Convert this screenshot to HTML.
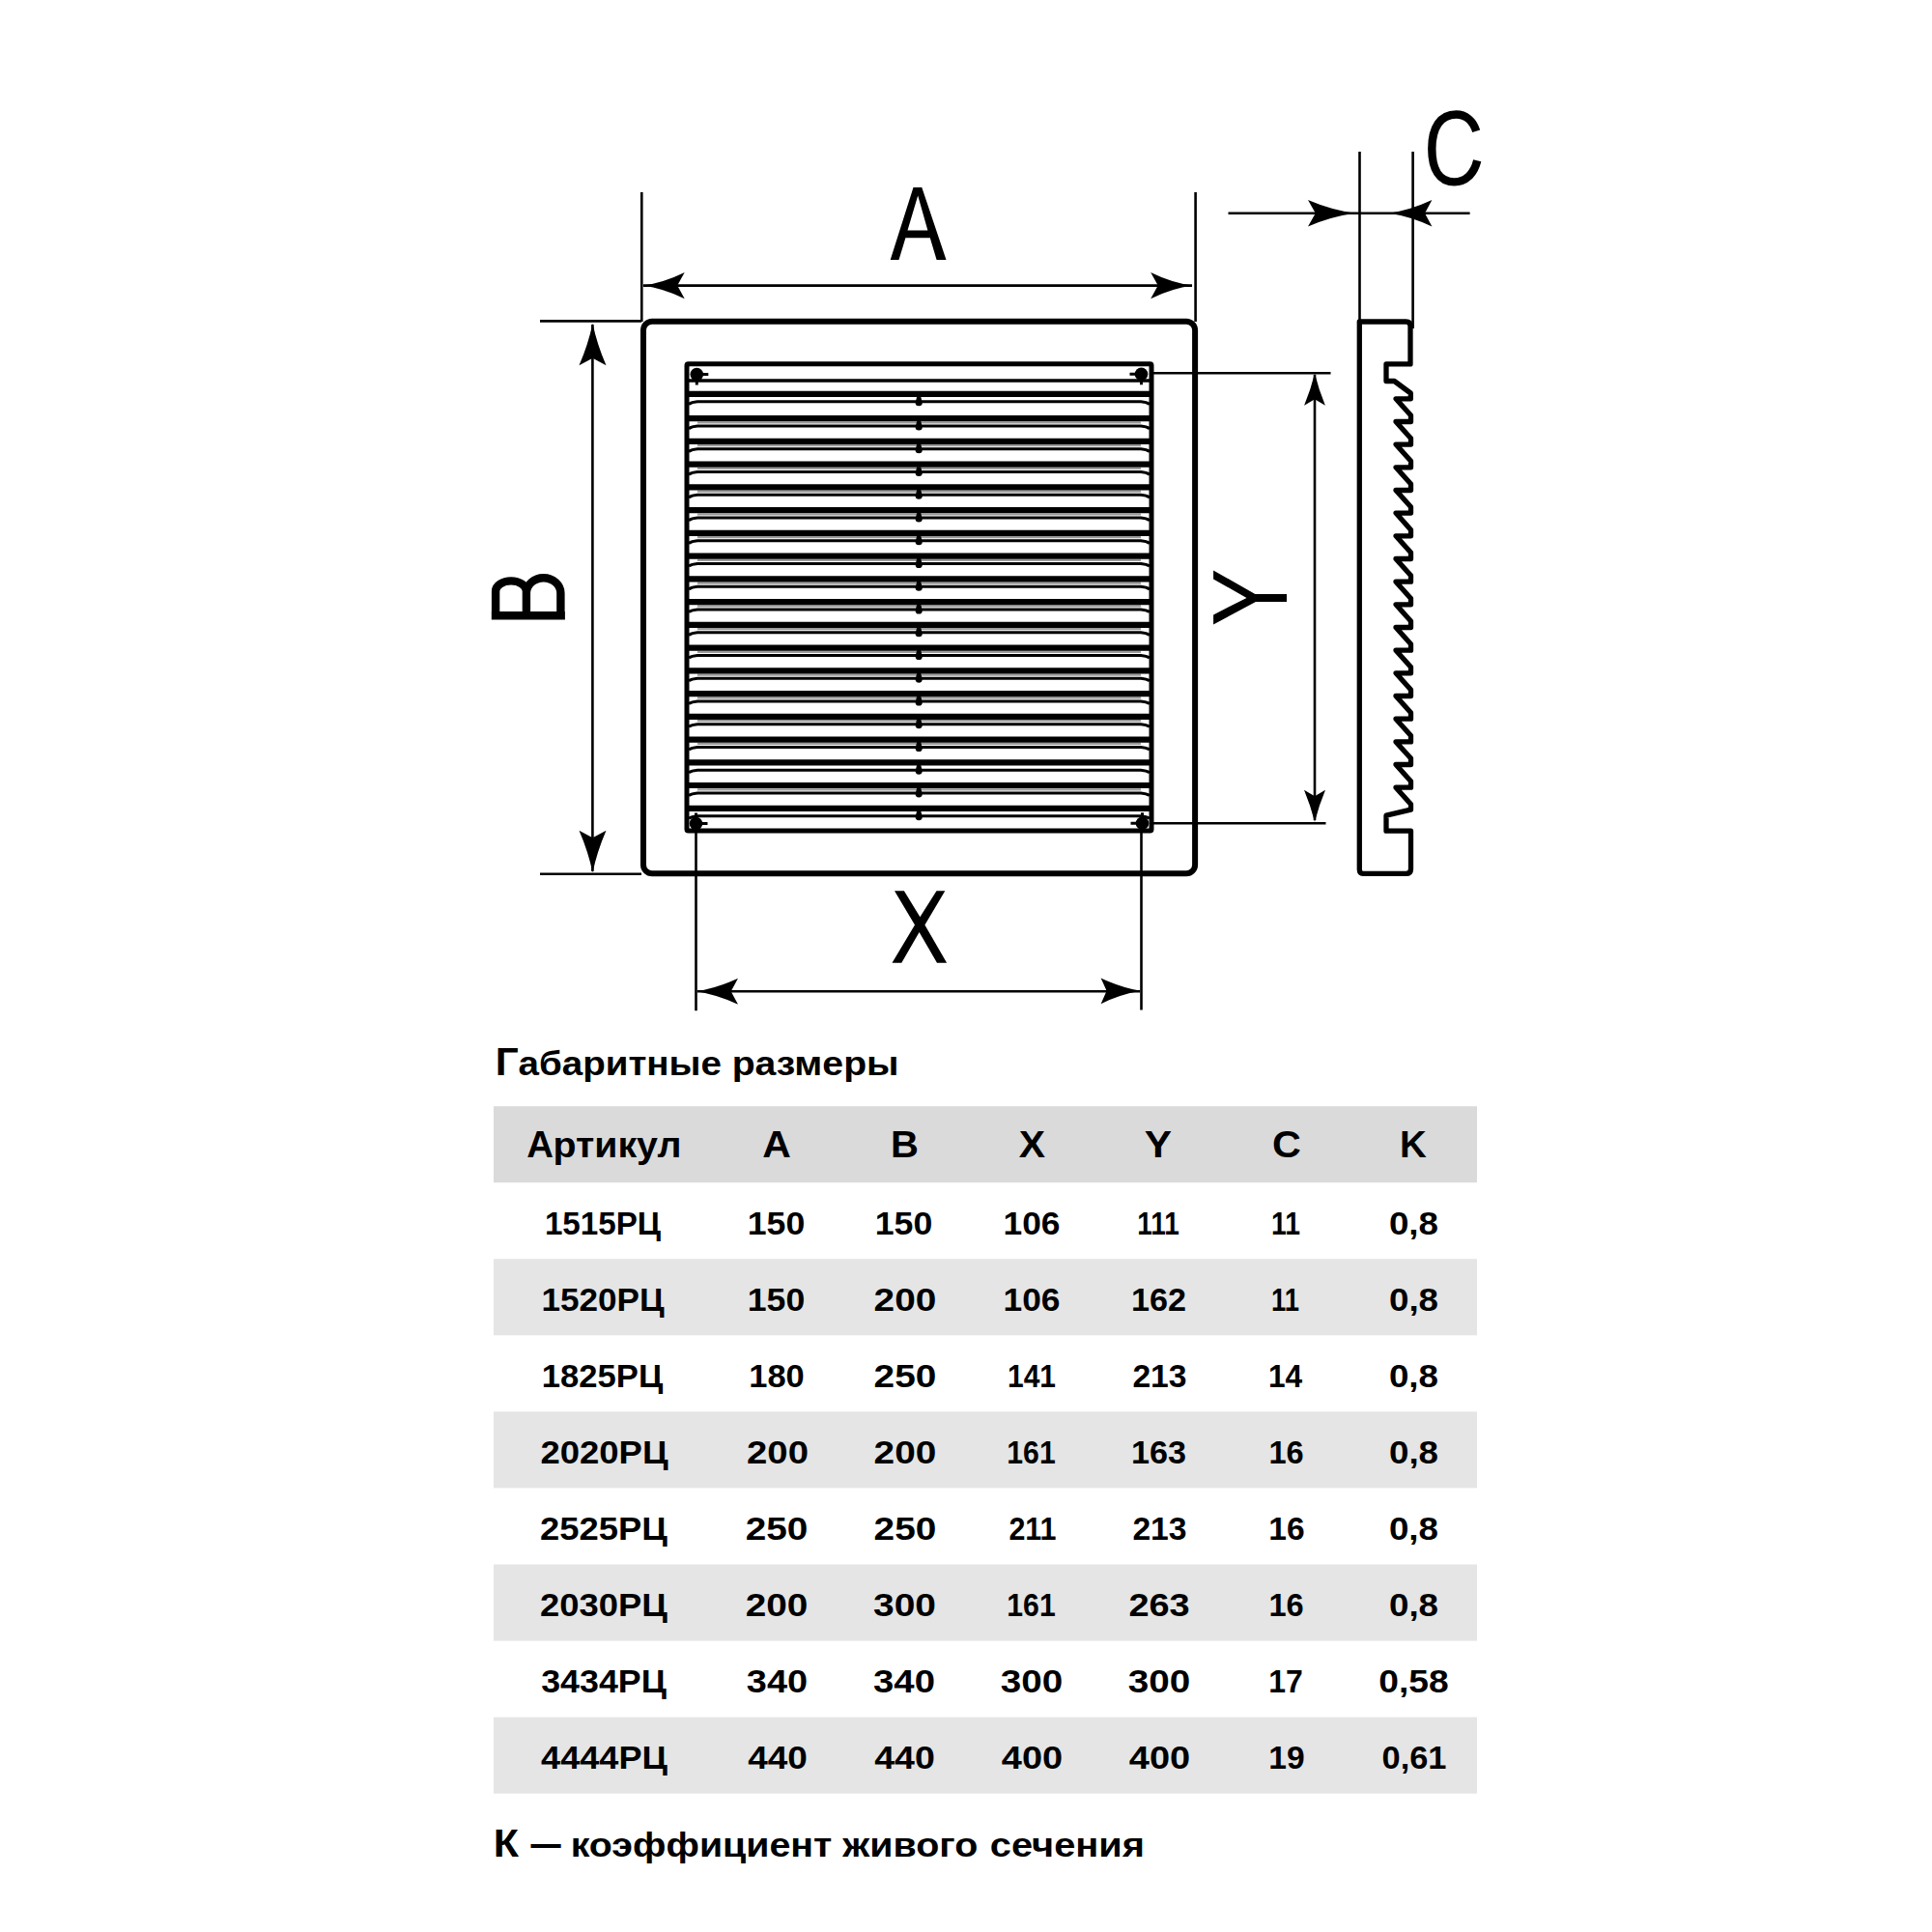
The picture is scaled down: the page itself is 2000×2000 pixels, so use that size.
<!DOCTYPE html>
<html><head><meta charset="utf-8"><style>
html,body{margin:0;padding:0;background:#fff;}
body{width:2000px;height:2000px;overflow:hidden;font-family:"Liberation Sans",sans-serif;}
svg{display:block;}
</style></head><body>
<svg width="2000" height="2000" viewBox="0 0 2000 2000">
<rect width="2000" height="2000" fill="#fff"/>
<path d="M664.3,199V333 M1237.6,199V333 M666,295.6H1234 M559,332.4H664 M559,904.7H664 M613.4,336V902 M1407.5,157V331 M1462.6,157V340 M1271.5,220.8H1521.6 M1194,386.3H1377.5 M1194,852.2H1372.5 M1361,388V849 M720.5,862V1046.3 M1181.5,862V1045.6 M722,1026.2H1180" fill="none" stroke="#000" stroke-width="2.6"/><g fill="#000"><path d="M665.2,295.6 Q687.0,292.6 708.7,281.9 L701.2,295.6 L708.7,309.3 Q687.0,298.6 665.2,295.6 Z"/><path d="M1234.7,295.6 Q1213.0,292.6 1191.2,281.9 L1198.7,295.6 L1191.2,309.3 Q1213.0,298.6 1234.7,295.6 Z"/><path d="M613.5,334.8 Q608.9,356.6 599.5,378.3 L613.5,370.8 L627.5,378.3 Q618.1,356.6 613.5,334.8 Z"/><path d="M613.5,903.2 Q608.9,881.5 599.5,859.7 L613.5,867.2 L627.5,859.7 Q618.1,881.5 613.5,903.2 Z"/><path d="M721.0,1026.2 Q742.5,1022.8 764.0,1012.8 L756.7,1026.2 L764.0,1039.7 Q742.5,1029.6 721.0,1026.2 Z"/><path d="M1181.0,1025.8 Q1160.3,1022.4 1139.6,1012.4 L1145.6,1025.8 L1139.6,1039.2 Q1160.3,1029.1 1181.0,1025.8 Z"/><path d="M1361.0,386.4 Q1356.9,403.1 1350.1,419.8 L1361.0,413.3 L1371.9,419.8 Q1365.1,403.1 1361.0,386.4 Z"/><path d="M1361.0,850.7 Q1356.8,834.2 1350.0,817.7 L1361.0,824.2 L1372.0,817.7 Q1365.2,834.2 1361.0,850.7 Z"/><path d="M1403.0,220.8 Q1378.5,217.6 1354.0,207.1 L1361.8,220.8 L1354.0,234.5 Q1378.5,224.0 1403.0,220.8 Z"/><path d="M1437.7,220.8 Q1460.0,217.6 1482.4,207.1 L1475.0,220.8 L1482.4,234.5 Q1460.0,224.0 1437.7,220.8 Z"/></g><rect x="666" y="332.7" width="571.1" height="571.6" rx="9" fill="none" stroke="#000" stroke-width="6"/><rect x="711" y="376.8" width="481" height="483.2" rx="1.5" fill="none" stroke="#000" stroke-width="5"/><path d="M713,394H1190" stroke="#000" stroke-width="3.4"/><path d="M713,407.9H1190" stroke="#000" stroke-width="6.2"/><path d="M713,418.4 Q716,416.4 722,415.8 H1181 Q1187,416.4 1190,418.4" fill="none" stroke="#000" stroke-width="3.0"/><path d="M949.2,410.4 H953.2 L954.8,416.7 A3.6,3.6 0 0 1 947.6,416.7 Z" fill="#000"/><path d="M722,437.5H1181" stroke="#9a9a9a" stroke-width="2.2"/><path d="M713,433.2H1190" stroke="#000" stroke-width="6.2"/><path d="M713,443.7 Q716,441.7 722,441.1 H1181 Q1187,441.7 1190,443.7" fill="none" stroke="#000" stroke-width="3.0"/><path d="M949.2,435.7 H953.2 L954.8,442.0 A3.6,3.6 0 0 1 947.6,442.0 Z" fill="#000"/><path d="M722,461.2H1181" stroke="#9a9a9a" stroke-width="2.2"/><path d="M713,456.9H1190" stroke="#000" stroke-width="6.2"/><path d="M713,467.4 Q716,465.4 722,464.8 H1181 Q1187,465.4 1190,467.4" fill="none" stroke="#000" stroke-width="3.0"/><path d="M949.2,459.4 H953.2 L954.8,465.7 A3.6,3.6 0 0 1 947.6,465.7 Z" fill="#000"/><path d="M722,485.0H1181" stroke="#9a9a9a" stroke-width="2.2"/><path d="M713,480.7H1190" stroke="#000" stroke-width="6.2"/><path d="M713,491.2 Q716,489.2 722,488.6 H1181 Q1187,489.2 1190,491.2" fill="none" stroke="#000" stroke-width="3.0"/><path d="M949.2,483.2 H953.2 L954.8,489.5 A3.6,3.6 0 0 1 947.6,489.5 Z" fill="#000"/><path d="M722,508.7H1181" stroke="#9a9a9a" stroke-width="2.2"/><path d="M713,504.4H1190" stroke="#000" stroke-width="6.2"/><path d="M713,514.9 Q716,512.9 722,512.3 H1181 Q1187,512.9 1190,514.9" fill="none" stroke="#000" stroke-width="3.0"/><path d="M949.2,506.9 H953.2 L954.8,513.2 A3.6,3.6 0 0 1 947.6,513.2 Z" fill="#000"/><path d="M722,532.5H1181" stroke="#9a9a9a" stroke-width="2.2"/><path d="M713,528.2H1190" stroke="#000" stroke-width="6.2"/><path d="M713,538.7 Q716,536.7 722,536.1 H1181 Q1187,536.7 1190,538.7" fill="none" stroke="#000" stroke-width="3.0"/><path d="M949.2,530.7 H953.2 L954.8,537.0 A3.6,3.6 0 0 1 947.6,537.0 Z" fill="#000"/><path d="M722,556.2H1181" stroke="#9a9a9a" stroke-width="2.2"/><path d="M713,551.9H1190" stroke="#000" stroke-width="6.2"/><path d="M713,562.4 Q716,560.4 722,559.8 H1181 Q1187,560.4 1190,562.4" fill="none" stroke="#000" stroke-width="3.0"/><path d="M949.2,554.4 H953.2 L954.8,560.7 A3.6,3.6 0 0 1 947.6,560.7 Z" fill="#000"/><path d="M722,579.9H1181" stroke="#9a9a9a" stroke-width="2.2"/><path d="M713,575.6H1190" stroke="#000" stroke-width="6.2"/><path d="M713,586.1 Q716,584.1 722,583.5 H1181 Q1187,584.1 1190,586.1" fill="none" stroke="#000" stroke-width="3.0"/><path d="M949.2,578.1 H953.2 L954.8,584.4 A3.6,3.6 0 0 1 947.6,584.4 Z" fill="#000"/><path d="M722,603.7H1181" stroke="#9a9a9a" stroke-width="2.2"/><path d="M713,599.4H1190" stroke="#000" stroke-width="6.2"/><path d="M713,609.9 Q716,607.9 722,607.3 H1181 Q1187,607.9 1190,609.9" fill="none" stroke="#000" stroke-width="3.0"/><path d="M949.2,601.9 H953.2 L954.8,608.2 A3.6,3.6 0 0 1 947.6,608.2 Z" fill="#000"/><path d="M722,627.4H1181" stroke="#9a9a9a" stroke-width="2.2"/><path d="M713,623.1H1190" stroke="#000" stroke-width="6.2"/><path d="M713,633.6 Q716,631.6 722,631.0 H1181 Q1187,631.6 1190,633.6" fill="none" stroke="#000" stroke-width="3.0"/><path d="M949.2,625.6 H953.2 L954.8,631.9 A3.6,3.6 0 0 1 947.6,631.9 Z" fill="#000"/><path d="M722,651.2H1181" stroke="#9a9a9a" stroke-width="2.2"/><path d="M713,646.9H1190" stroke="#000" stroke-width="6.2"/><path d="M713,657.4 Q716,655.4 722,654.8 H1181 Q1187,655.4 1190,657.4" fill="none" stroke="#000" stroke-width="3.0"/><path d="M949.2,649.4 H953.2 L954.8,655.7 A3.6,3.6 0 0 1 947.6,655.7 Z" fill="#000"/><path d="M722,674.9H1181" stroke="#9a9a9a" stroke-width="2.2"/><path d="M713,670.6H1190" stroke="#000" stroke-width="6.2"/><path d="M713,681.1 Q716,679.1 722,678.5 H1181 Q1187,679.1 1190,681.1" fill="none" stroke="#000" stroke-width="3.0"/><path d="M949.2,673.1 H953.2 L954.8,679.4 A3.6,3.6 0 0 1 947.6,679.4 Z" fill="#000"/><path d="M722,698.6H1181" stroke="#9a9a9a" stroke-width="2.2"/><path d="M713,694.3H1190" stroke="#000" stroke-width="6.2"/><path d="M713,704.8 Q716,702.8 722,702.2 H1181 Q1187,702.8 1190,704.8" fill="none" stroke="#000" stroke-width="3.0"/><path d="M949.2,696.8 H953.2 L954.8,703.1 A3.6,3.6 0 0 1 947.6,703.1 Z" fill="#000"/><path d="M722,722.4H1181" stroke="#9a9a9a" stroke-width="2.2"/><path d="M713,718.1H1190" stroke="#000" stroke-width="6.2"/><path d="M713,728.6 Q716,726.6 722,726.0 H1181 Q1187,726.6 1190,728.6" fill="none" stroke="#000" stroke-width="3.0"/><path d="M949.2,720.6 H953.2 L954.8,726.9 A3.6,3.6 0 0 1 947.6,726.9 Z" fill="#000"/><path d="M722,746.1H1181" stroke="#9a9a9a" stroke-width="2.2"/><path d="M713,741.8H1190" stroke="#000" stroke-width="6.2"/><path d="M713,752.3 Q716,750.3 722,749.7 H1181 Q1187,750.3 1190,752.3" fill="none" stroke="#000" stroke-width="3.0"/><path d="M949.2,744.3 H953.2 L954.8,750.6 A3.6,3.6 0 0 1 947.6,750.6 Z" fill="#000"/><path d="M722,769.9H1181" stroke="#9a9a9a" stroke-width="2.2"/><path d="M713,765.6H1190" stroke="#000" stroke-width="6.2"/><path d="M713,776.1 Q716,774.1 722,773.5 H1181 Q1187,774.1 1190,776.1" fill="none" stroke="#000" stroke-width="3.0"/><path d="M949.2,768.1 H953.2 L954.8,774.4 A3.6,3.6 0 0 1 947.6,774.4 Z" fill="#000"/><path d="M713,789.3H1190" stroke="#000" stroke-width="6.2"/><path d="M713,799.8 Q716,797.8 722,797.2 H1181 Q1187,797.8 1190,799.8" fill="none" stroke="#000" stroke-width="3.0"/><path d="M949.2,791.8 H953.2 L954.8,798.1 A3.6,3.6 0 0 1 947.6,798.1 Z" fill="#000"/><path d="M722,817.3H1181" stroke="#9a9a9a" stroke-width="2.2"/><path d="M713,813.0H1190" stroke="#000" stroke-width="6.2"/><path d="M713,823.5 Q716,821.5 722,820.9 H1181 Q1187,821.5 1190,823.5" fill="none" stroke="#000" stroke-width="3.0"/><path d="M949.2,815.5 H953.2 L954.8,821.8 A3.6,3.6 0 0 1 947.6,821.8 Z" fill="#000"/><path d="M713,836.8H1190" stroke="#000" stroke-width="6.2"/><path d="M713,847.3 Q716,845.3 722,844.7 H1181 Q1187,845.3 1190,847.3" fill="none" stroke="#000" stroke-width="3.0"/><path d="M949.2,839.3 H953.2 L954.8,845.6 A3.6,3.6 0 0 1 947.6,845.6 Z" fill="#000"/><circle cx="721.3" cy="387.6" r="6.8" fill="#000"/><path d="M721.3,387.6H733.3 M721.3,387.6V398.6" stroke="#000" stroke-width="3"/><circle cx="1181.5" cy="387.2" r="6.8" fill="#000"/><path d="M1181.5,387.2H1169.5 M1181.5,387.2V398.2" stroke="#000" stroke-width="3"/><circle cx="720.5" cy="852.5" r="6.8" fill="#000"/><path d="M720.5,852.5H732.5 M720.5,852.5V841.5" stroke="#000" stroke-width="3"/><circle cx="1182.5" cy="852.3" r="6.8" fill="#000"/><path d="M1182.5,852.3H1170.5 M1182.5,852.3V841.3" stroke="#000" stroke-width="3"/><path d="M1407.3,333 H1455.5 Q1460,333 1460,337.5 V376.9 H1435 V394.5 H1443.4 L1460.3,407 V412.8 H1445 L1460.5,430.0 V436.5 H1445 L1460.5,453.7 V460.1 H1445 L1460.5,477.3 V483.8 H1445 L1460.5,501.0 V507.5 H1445 L1460.5,524.7 V531.1 H1445 L1460.5,548.4 V554.8 H1445 L1460.5,572.0 V578.5 H1445 L1460.5,595.7 V602.2 H1445 L1460.5,619.4 V625.8 H1445 L1460.5,643.0 V649.5 H1445 L1460.5,666.7 V673.2 H1445 L1460.5,690.4 V696.8 H1445 L1460.5,714.0 V720.5 H1445 L1460.5,737.7 V744.2 H1445 L1460.5,761.4 V767.9 H1445 L1460.5,785.1 V791.5 H1445 L1460.5,808.7 V815.2 H1445 L1460.5,832.4 V838.2 L1435,844.2 V860.2 H1460.5 V899.4 Q1460.5,904.4 1455.5,904.4 H1411 Q1407.3,904.4 1407.3,900 Z" fill="none" stroke="#000" stroke-width="5.3" stroke-linejoin="round"/><path d="M921.7,269 L945.5,194 L954.3,194 L979.5,269 L969.6,269 L962.8,246.3 L937.4,246.3 L930.5,269 Z M939.5,238.5 L960.4,238.5 L950.2,202.5 Z" fill="#000" fill-rule="evenodd"/><path d="M926,922.2 L935.9,922.2 L952.4,949.3 L969.5,922.2 L978.3,922.2 L957.4,957.6 L980.1,996.7 L970,996.7 L951.6,964.9 L933.3,996.7 L923.5,996.7 L947,957.6 Z" fill="#000"/><path d="M1256.1,590.4 L1299.3,614.9 L1332,614.9 L1332,623 L1299.9,623 L1256.1,646.5 L1256.1,636.4 L1290.5,618.9 L1256.1,599.4 Z" fill="#000"/><path d="M508.8,637.3 H584.9 M513.1,637 V612 A15.9,10.6 0 0 1 544.9,612 V637 M544.9,637 V614 A17.75,15.8 0 0 1 580.4,614 V637" fill="none" stroke="#000" stroke-width="8.4"/><path d="M1528.2,135.7 C1524.5,124.5 1517,118.5 1507.5,118.5 C1491,118.5 1482.3,132 1482.3,154 C1482.3,175 1490,188.4 1505.5,188.4 C1517,188.4 1526,180 1529.2,166.3" fill="none" stroke="#000" stroke-width="8.4"/>
<rect x="511" y="1145.2" width="1018" height="79" fill="#dadada"/><rect x="511" y="1303.2" width="1018" height="79.1" fill="#e5e5e5"/><rect x="511" y="1461.3" width="1018" height="79.1" fill="#e5e5e5"/><rect x="511" y="1619.5" width="1018" height="79.1" fill="#e5e5e5"/><rect x="511" y="1777.6" width="1018" height="79.1" fill="#e5e5e5"/><g font-family="Liberation Sans" font-weight="bold" text-anchor="middle" fill="#000"><text id="h0" x="559.00" y="1198.0" font-size="39.7" textLength="27.71" lengthAdjust="spacingAndGlyphs">А</text><text id="h0b" x="638.95" y="1198.0" font-size="39.7" textLength="132.90" lengthAdjust="spacingAndGlyphs" transform="matrix(1 0 0 0.940 0 71.88)">ртикул</text><text id="h1" x="804.00" y="1198.0" font-size="39.7" textLength="29.57" lengthAdjust="spacingAndGlyphs">A</text><text id="h2" x="936.50" y="1198.0" font-size="39.7" textLength="28.92" lengthAdjust="spacingAndGlyphs">B</text><text id="h3" x="1068.50" y="1198.0" font-size="39.7" textLength="27.26" lengthAdjust="spacingAndGlyphs">X</text><text id="h4" x="1199.00" y="1198.0" font-size="39.7" textLength="28.27" lengthAdjust="spacingAndGlyphs">Y</text><text id="h5" x="1332.00" y="1198.0" font-size="39.7" textLength="29.82" lengthAdjust="spacingAndGlyphs">C</text><text id="h6" x="1463.00" y="1198.0" font-size="39.7" textLength="27.77" lengthAdjust="spacingAndGlyphs">K</text><text id="c0_0" x="624.00" y="1277.5" font-size="33.7" textLength="120.22" lengthAdjust="spacingAndGlyphs">1515РЦ</text><text id="c0_1" x="803.50" y="1277.5" font-size="33.7" textLength="59.50" lengthAdjust="spacingAndGlyphs">150</text><text id="c0_2" x="935.50" y="1277.5" font-size="33.7" textLength="59.56" lengthAdjust="spacingAndGlyphs">150</text><text id="c0_3" x="1068.00" y="1277.5" font-size="33.7" textLength="58.94" lengthAdjust="spacingAndGlyphs">106</text><text id="c0_4" x="1199.00" y="1277.5" font-size="33.7" textLength="43.56" lengthAdjust="spacingAndGlyphs">111</text><text id="c0_5" x="1331.00" y="1277.5" font-size="33.7" textLength="29.94" lengthAdjust="spacingAndGlyphs">11</text><text id="c0_6" x="1463.50" y="1277.5" font-size="33.7" textLength="51.10" lengthAdjust="spacingAndGlyphs">0,8</text><text id="c1_0" x="624.00" y="1356.5" font-size="33.7" textLength="127.12" lengthAdjust="spacingAndGlyphs">1520РЦ</text><text id="c1_1" x="803.50" y="1356.5" font-size="33.7" textLength="59.48" lengthAdjust="spacingAndGlyphs">150</text><text id="c1_2" x="937.00" y="1356.5" font-size="33.7" textLength="64.73" lengthAdjust="spacingAndGlyphs">200</text><text id="c1_3" x="1068.00" y="1356.5" font-size="33.7" textLength="58.94" lengthAdjust="spacingAndGlyphs">106</text><text id="c1_4" x="1199.50" y="1356.5" font-size="33.7" textLength="57.00" lengthAdjust="spacingAndGlyphs">162</text><text id="c1_5" x="1330.50" y="1356.5" font-size="33.7" textLength="28.95" lengthAdjust="spacingAndGlyphs">11</text><text id="c1_6" x="1463.50" y="1356.5" font-size="33.7" textLength="51.08" lengthAdjust="spacingAndGlyphs">0,8</text><text id="c2_0" x="623.50" y="1435.6" font-size="33.7" textLength="125.40" lengthAdjust="spacingAndGlyphs">1825РЦ</text><text id="c2_1" x="804.00" y="1435.6" font-size="33.7" textLength="57.56" lengthAdjust="spacingAndGlyphs">180</text><text id="c2_2" x="937.00" y="1435.6" font-size="33.7" textLength="64.73" lengthAdjust="spacingAndGlyphs">250</text><text id="c2_3" x="1068.00" y="1435.6" font-size="33.7" textLength="50.04" lengthAdjust="spacingAndGlyphs">141</text><text id="c2_4" x="1200.50" y="1435.6" font-size="33.7" textLength="56.22" lengthAdjust="spacingAndGlyphs">213</text><text id="c2_5" x="1330.50" y="1435.6" font-size="33.7" textLength="35.18" lengthAdjust="spacingAndGlyphs">14</text><text id="c2_6" x="1463.50" y="1435.6" font-size="33.7" textLength="51.10" lengthAdjust="spacingAndGlyphs">0,8</text><text id="c3_0" x="625.50" y="1514.7" font-size="33.7" textLength="132.12" lengthAdjust="spacingAndGlyphs">2020РЦ</text><text id="c3_1" x="805.00" y="1514.7" font-size="33.7" textLength="63.89" lengthAdjust="spacingAndGlyphs">200</text><text id="c3_2" x="937.00" y="1514.7" font-size="33.7" textLength="64.73" lengthAdjust="spacingAndGlyphs">200</text><text id="c3_3" x="1067.50" y="1514.7" font-size="33.7" textLength="50.37" lengthAdjust="spacingAndGlyphs">161</text><text id="c3_4" x="1199.50" y="1514.7" font-size="33.7" textLength="57.00" lengthAdjust="spacingAndGlyphs">163</text><text id="c3_5" x="1331.50" y="1514.7" font-size="33.7" textLength="36.25" lengthAdjust="spacingAndGlyphs">16</text><text id="c3_6" x="1463.50" y="1514.7" font-size="33.7" textLength="51.08" lengthAdjust="spacingAndGlyphs">0,8</text><text id="c4_0" x="625.00" y="1593.7" font-size="33.7" textLength="131.84" lengthAdjust="spacingAndGlyphs">2525РЦ</text><text id="c4_1" x="804.00" y="1593.7" font-size="33.7" textLength="64.70" lengthAdjust="spacingAndGlyphs">250</text><text id="c4_2" x="937.00" y="1593.7" font-size="33.7" textLength="64.73" lengthAdjust="spacingAndGlyphs">250</text><text id="c4_3" x="1069.00" y="1593.7" font-size="33.7" textLength="49.14" lengthAdjust="spacingAndGlyphs">211</text><text id="c4_4" x="1200.50" y="1593.7" font-size="33.7" textLength="56.22" lengthAdjust="spacingAndGlyphs">213</text><text id="c4_5" x="1332.00" y="1593.7" font-size="33.7" textLength="37.35" lengthAdjust="spacingAndGlyphs">16</text><text id="c4_6" x="1463.50" y="1593.7" font-size="33.7" textLength="51.10" lengthAdjust="spacingAndGlyphs">0,8</text><text id="c5_0" x="625.00" y="1672.8" font-size="33.7" textLength="131.84" lengthAdjust="spacingAndGlyphs">2030РЦ</text><text id="c5_1" x="804.00" y="1672.8" font-size="33.7" textLength="64.70" lengthAdjust="spacingAndGlyphs">200</text><text id="c5_2" x="936.50" y="1672.8" font-size="33.7" textLength="65.02" lengthAdjust="spacingAndGlyphs">300</text><text id="c5_3" x="1067.50" y="1672.8" font-size="33.7" textLength="50.37" lengthAdjust="spacingAndGlyphs">161</text><text id="c5_4" x="1200.00" y="1672.8" font-size="33.7" textLength="63.25" lengthAdjust="spacingAndGlyphs">263</text><text id="c5_5" x="1331.50" y="1672.8" font-size="33.7" textLength="36.25" lengthAdjust="spacingAndGlyphs">16</text><text id="c5_6" x="1463.50" y="1672.8" font-size="33.7" textLength="51.08" lengthAdjust="spacingAndGlyphs">0,8</text><text id="c6_0" x="625.00" y="1751.8" font-size="33.7" textLength="129.61" lengthAdjust="spacingAndGlyphs">3434РЦ</text><text id="c6_1" x="804.50" y="1751.8" font-size="33.7" textLength="63.26" lengthAdjust="spacingAndGlyphs">340</text><text id="c6_2" x="936.00" y="1751.8" font-size="33.7" textLength="63.91" lengthAdjust="spacingAndGlyphs">340</text><text id="c6_3" x="1068.00" y="1751.8" font-size="33.7" textLength="64.48" lengthAdjust="spacingAndGlyphs">300</text><text id="c6_4" x="1200.00" y="1751.8" font-size="33.7" textLength="64.48" lengthAdjust="spacingAndGlyphs">300</text><text id="c6_5" x="1331.00" y="1751.8" font-size="33.7" textLength="35.56" lengthAdjust="spacingAndGlyphs">17</text><text id="c6_6" x="1463.50" y="1751.8" font-size="33.7" textLength="72.37" lengthAdjust="spacingAndGlyphs">0,58</text><text id="c7_0" x="625.50" y="1830.8" font-size="33.7" textLength="130.83" lengthAdjust="spacingAndGlyphs">4444РЦ</text><text id="c7_1" x="805.00" y="1830.8" font-size="33.7" textLength="61.70" lengthAdjust="spacingAndGlyphs">440</text><text id="c7_2" x="936.50" y="1830.8" font-size="33.7" textLength="62.70" lengthAdjust="spacingAndGlyphs">440</text><text id="c7_3" x="1068.50" y="1830.8" font-size="33.7" textLength="63.29" lengthAdjust="spacingAndGlyphs">400</text><text id="c7_4" x="1200.50" y="1830.8" font-size="33.7" textLength="63.29" lengthAdjust="spacingAndGlyphs">400</text><text id="c7_5" x="1332.00" y="1830.8" font-size="33.7" textLength="37.32" lengthAdjust="spacingAndGlyphs">19</text><text id="c7_6" x="1464.00" y="1830.8" font-size="33.7" textLength="66.95" lengthAdjust="spacingAndGlyphs">0,61</text><text id="t0" x="524.80" y="1112.8" font-size="40" textLength="23.96" lengthAdjust="spacingAndGlyphs">Г</text><text id="t2" x="641.70" y="1112.8" font-size="40" textLength="210.43" lengthAdjust="spacingAndGlyphs" transform="matrix(1 0 0 0.870 0 144.66)">абаритные</text><text id="t1" x="844.10" y="1112.8" font-size="40" textLength="172.88" lengthAdjust="spacingAndGlyphs" transform="matrix(1 0 0 0.870 0 144.66)">размеры</text><text id="k0" x="523.80" y="1921.6" font-size="40" textLength="26.26" lengthAdjust="spacingAndGlyphs">К</text><text id="k1" x="565.10" y="1921.6" font-size="40" textLength="31.10" lengthAdjust="spacingAndGlyphs">—</text><text id="k2" x="726.00" y="1921.6" font-size="40" textLength="270.70" lengthAdjust="spacingAndGlyphs" transform="matrix(1 0 0 0.870 0 249.81)">коэффициент</text><text id="k3" x="942.30" y="1921.6" font-size="40" textLength="140.01" lengthAdjust="spacingAndGlyphs" transform="matrix(1 0 0 0.870 0 249.81)">живого</text><text id="k4" x="1104.90" y="1921.6" font-size="40" textLength="160.05" lengthAdjust="spacingAndGlyphs" transform="matrix(1 0 0 0.870 0 249.81)">сечения</text></g>
</svg>
</body></html>
